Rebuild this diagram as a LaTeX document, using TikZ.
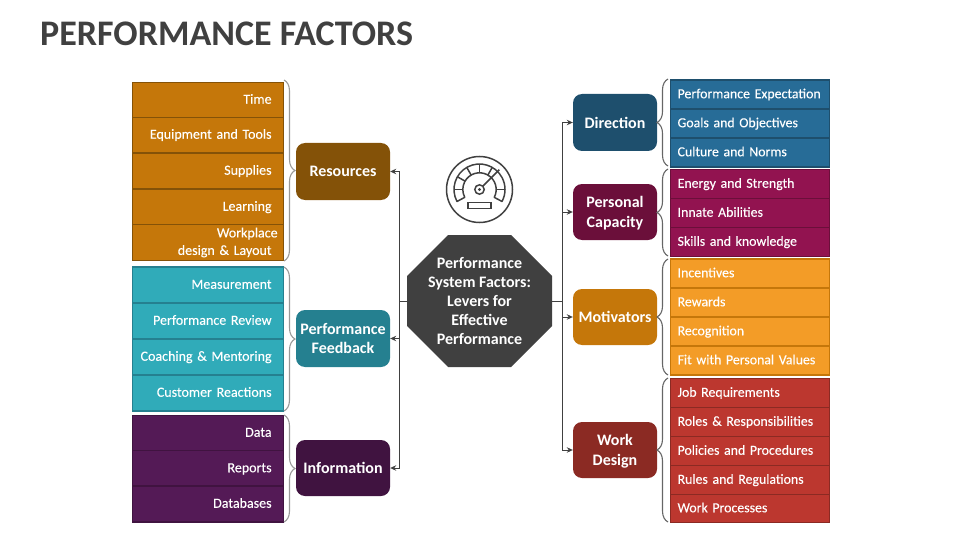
\documentclass[tikz,border=0pt]{standalone}
\usepackage{fontspec}
\setmainfont{Carlito}
\newfontfamily\cellfont{Carlito}[FakeBold=0.12,WordSpace=0.8]
\usetikzlibrary{shapes.misc,arrows.meta,decorations.pathreplacing}
\definecolor{resL}{HTML}{C5770A}\definecolor{resD}{HTML}{845208}
\definecolor{fbL}{HTML}{30ABB9}\definecolor{fbD}{HTML}{258090}
\definecolor{infL}{HTML}{541A56}\definecolor{infD}{HTML}{401340}
\definecolor{dirL}{HTML}{276C97}\definecolor{dirD}{HTML}{1E4F6D}
\definecolor{capL}{HTML}{921350}\definecolor{capD}{HTML}{6B0F3A}
\definecolor{motL}{HTML}{F39C27}\definecolor{motD}{HTML}{C5770A}
\definecolor{wrkL}{HTML}{BC372F}\definecolor{wrkD}{HTML}{8B2A23}
\definecolor{ink}{HTML}{404040}
\newcommand{\nodepth}[1]{\raisebox{0pt}[\height][0pt]{#1}}
\newcommand{\cellstrut}{\vrule width 0pt height 12.5pt depth 5pt\relax}
\tikzset{
  cellbox/.style={draw=#1D,fill=#1L,line width=1.2pt,text=white},
  lcell/.style={cellbox=#1,minimum width=151pt,anchor=west,align=right,text width=139pt,inner xsep=6pt,inner ysep=0pt,font=\cellfont\fontsize{14}{17.5}\selectfont},
  rcell/.style={cellbox=#1,minimum width=159pt,anchor=west,align=left,text width=145pt,inner xsep=7pt,inner ysep=0pt,font=\cellfont\fontsize{13.85}{17.5}\selectfont},
  hub/.style={fill=#1,rounded corners=9pt,text=white,align=center,inner sep=0pt,font=\bfseries\fontsize{16}{19.5}\selectfont},
  link/.style={draw=ink,line width=0.9pt},
  linkarrow/.style={link,-{Stealth[length=6pt,width=5.5pt]}},
  bracket/.style={draw=#1,line width=1.1pt,decorate,decoration={brace,amplitude=11pt,aspect=0.5}},
  gauge/.style={draw=ink,line width=1.5pt},
}
\newcommand{\lcellat}[5]{\node[lcell=#1,minimum height=#4pt] (#2) at (132,#3) {\cellstrut #5\hspace*{6pt}};}
\newcommand{\rcellat}[5]{\node[rcell=#1,minimum height=#4pt] (#2) at (670,#3) {\cellstrut #5};}
\begin{document}
\begin{tikzpicture}[x=1pt,y=-1pt]
\useasboundingbox (0,0) rectangle (960,540);
\node[anchor=west,inner sep=0pt,text=ink,font=\bfseries\fontsize{36}{40}\selectfont] (title) at (40,34) {PERFORMANCE FACTORS};
% left cells
\lcellat{res}{a1}{100}{35.5}{Time}
\lcellat{res}{a2}{135}{35.5}{Equipment and Tools}
\lcellat{res}{a3}{171}{36}{Supplies}
\lcellat{res}{a4}{207}{35.5}{Learning}
\node[lcell=res,minimum height=35.5pt] (a5) at (132,242.5) {Workplace\hspace*{6pt}\\design \& Layout\hspace*{6pt}};
\lcellat{fb}{b1}{285}{36}{Measurement}
\lcellat{fb}{b2}{321}{36}{Performance Review}
\lcellat{fb}{b3}{357}{36}{Coaching \& Mentoring}
\lcellat{fb}{b4}{393}{36}{Customer Reactions}
\lcellat{inf}{c1}{433}{35.5}{Data}
\lcellat{inf}{c2}{468.5}{35.5}{Reports}
\lcellat{inf}{c3}{504}{36}{Databases}
% right cells
\rcellat{dir}{d1}{94.5}{29}{Performance Expectation}
\rcellat{dir}{d2}{123.5}{29}{Goals and Objectives}
\rcellat{dir}{d3}{152.5}{29}{Culture and Norms}
\rcellat{cap}{e1}{184}{29}{Energy and Strength}
\rcellat{cap}{e2}{213}{29}{Innate Abilities}
\rcellat{cap}{e3}{242}{29}{Skills and knowledge}
\rcellat{mot}{f1}{273.5}{29}{Incentives}
\rcellat{mot}{f2}{302.5}{29}{Rewards}
\rcellat{mot}{f3}{331.5}{29}{Recognition}
\rcellat{mot}{f4}{360.5}{29}{Fit with Personal Values}
\rcellat{wrk}{g1}{393}{29}{Job Requirements}
\rcellat{wrk}{g2}{422}{29}{Roles \& Responsibilities}
\rcellat{wrk}{g3}{451}{29}{Policies and Procedures}
\rcellat{wrk}{g4}{480}{29}{Rules and Regulations}
\rcellat{wrk}{g5}{508.5}{28}{Work Processes}
% hubs
\node[hub=resD,minimum width=94pt,minimum height=57pt] (res) at (343,171.5) {Resources};
\node[hub=fbD,minimum width=94pt,minimum height=57pt] (fb) at (343,338.5) {Performance\\Feedback};
\node[hub=infD,minimum width=94pt,minimum height=56pt] (inf) at (343,468) {Information};
\node[hub=dirD,minimum width=84pt,minimum height=57pt] (dir) at (615,122.5) {Direction};
\node[hub=capD,minimum width=84pt,minimum height=56pt] (cap) at (615,212) {Personal\\\nodepth{Capacity}};
\node[hub=motD,minimum width=84pt,minimum height=56pt] (mot) at (615,317) {Motivators};
\node[hub=wrkD,minimum width=84pt,minimum height=56pt] (wrk) at (615,450) {Work\\\nodepth{Design}};
% centre
\node[chamfered rectangle,chamfered rectangle xsep=20pt,chamfered rectangle ysep=21pt,fill=ink,minimum width=145pt,minimum height=132pt,inner sep=0pt,text=white,align=center,font=\bfseries\fontsize{16}{19.2}\selectfont] (core) at (479.5,301) {Performance\\System Factors:\\Levers for\\Effective\\Performance};
% connectors
\coordinate (lj) at (399.5,301);
\coordinate (rj) at (562.5,301);
\draw[link] (core.west) -- (lj);
\draw[link] (core.east) -- (rj);
\foreach \h in {res,fb,inf} \draw[linkarrow] (lj) |- (\h.east);
\foreach \h in {dir,cap,mot,wrk} \draw[linkarrow] (rj) |- (\h.west);
% braces
\draw[bracket=black!40] (284,80) -- (284,261);
\draw[bracket=black!40] (284,267) -- (284,411);
\draw[bracket=black!40] (284,415) -- (284,522);
\draw[bracket=ink!80] (668,166) -- (668,79);
\draw[bracket=ink!80] (668,256) -- (668,169);
\draw[bracket=ink!80] (668,375) -- (668,259);
\draw[bracket=ink!80] (668,522) -- (668,378);
% gauge icon
\begin{scope}[shift={(479.5,189.5)},yscale=-1]
\draw[gauge] (0,0) circle[radius=33];
\draw[gauge] (0,0) circle[radius=4.7];
\fill[ink] (0,0) circle[radius=1.6];
\draw[gauge,line join=round] (208:25.5) arc[start angle=208,end angle=-28,radius=25.5] -- (-28:16.7) arc[start angle=-28,end angle=208,radius=16.7] -- cycle;
\foreach \a in {180,150,120,90,60,0} \draw[gauge] (\a:16.7) -- (\a:25.5);
\draw[gauge] (45:4.7) -- (45:28);
\draw[gauge] (-11.5,-12.8) rectangle (11.5,-19.2);
\end{scope}
\end{tikzpicture}
\end{document}
